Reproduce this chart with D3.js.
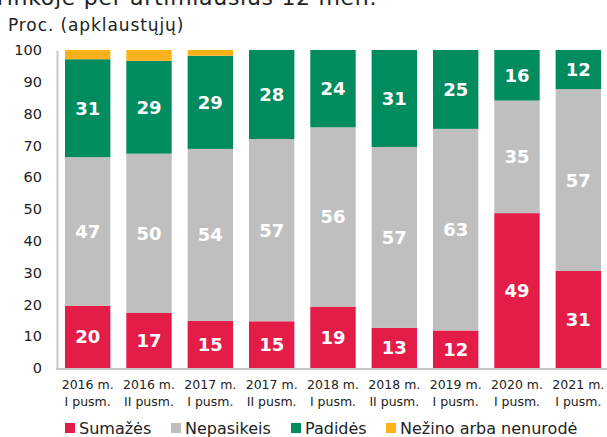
<!DOCTYPE html>
<html>
<head>
<meta charset="utf-8">
<script src="https://cdn.jsdelivr.net/npm/d3@7"></script>
<style>
  body { margin: 0; background: #fff; }
  svg { display: block; font-family: "DejaVu Sans", Verdana, sans-serif; }
</style>
</head>
<body>
<svg id="chart" width="607" height="437"></svg>
<script>
var periods = ["2016 m.|I pusm.", "2016 m.|II pusm.", "2017 m.|I pusm.", "2017 m.|II pusm.",
  "2018 m.|I pusm.", "2018 m.|II pusm.", "2019 m.|I pusm.", "2020 m.|I pusm.", "2021 m.|I pusm."]
var sumazes    = [19.6, 17.3, 14.8, 14.7, 19.3, 12.6, 11.8, 48.7, 30.5]
var nepasikeis = [46.7, 50.1, 54.1, 57.3, 56.4, 56.9, 63.4, 35.4, 57.2]
var padides    = [30.8, 29.2, 29.3, 28.0, 24.3, 30.5, 24.8, 15.9, 12.3]
var nezino     = [2.9, 3.4, 1.8, 0, 0, 0, 0, 0, 0]
var yTicks = [0, 10, 20, 30, 40, 50, 60, 70, 80, 90, 100]

var keys = ["Sumažės", "Nepasikeis", "Padidės", "Nežino arba nenurodė"]
var colors = ["#e31d48", "#bfbfbf", "#008c5f", "#fdb01a"]

var rows = periods.map(function(p, i){
  return {period: p, "Sumažės": sumazes[i], "Nepasikeis": nepasikeis[i],
    "Padidės": padides[i], "Nežino arba nenurodė": nezino[i]}
})

var svg = d3.select("#chart")

// title, cut off at the top edge like in the original
svg.append("text")
  .attr("x", -3).attr("y", 5)
  .attr("font-size", 22).attr("fill", "#222")
  .attr("letter-spacing", 0.7)
  .text("rinkoje per artimiausius 12 mėn.")

svg.append("text")
  .attr("x", 8).attr("y", 31)
  .attr("font-size", 17).attr("fill", "#222")
  .attr("letter-spacing", 0.9)
  .text("Proc. (apklaustųjų)")

var x = d3.scaleBand().domain(periods).range([57, 609]).paddingInner(0.26).paddingOuter(0.13)
var y = d3.scaleLinear().domain([0, 100]).range([368, 50])

var stack = d3.stack().keys(keys)(rows)

var layer = svg.selectAll(".layer")
  .data(stack)
  .join("g")
  .attr("class", "layer")
  .attr("fill", function(d, i){ return colors[i] })

layer.selectAll("rect")
  .data(function(d){ return d })
  .join("rect")
  .attr("x", function(d){ return x(d.data.period) })
  .attr("width", x.bandwidth())
  .attr("y", function(d){ return y(d[1]) })
  .attr("height", function(d){ return y(d[0]) - y(d[1]) })

// value labels (not for the orange series)
stack.slice(0, 3).forEach(function(s){
  svg.append("g").selectAll("text")
    .data(s)
    .join("text")
    .attr("x", function(d){ return x(d.data.period) + x.bandwidth()/2 })
    .attr("y", function(d){ return (y(d[0]) + y(d[1]))/2 })
    .attr("dy", "0.36em")
    .attr("text-anchor", "middle")
    .attr("font-size", 18)
    .attr("font-weight", "bold")
    .attr("fill", "#fff")
    .text(function(d){ return Math.round(d[1] - d[0]) })
})

// y axis
var yAxis = svg.append("g")
  .attr("transform", "translate(57,0)")
  .call(d3.axisLeft(y).tickValues(yTicks).tickSize(0).tickPadding(15))
yAxis.select(".domain").attr("stroke", "#c8c8c8").attr("stroke-width", 2)
yAxis.selectAll("text").attr("font-size", 14.5).attr("fill", "#222")
  .attr("font-family", "DejaVu Sans, Verdana, sans-serif")

// x axis
var xAxis = svg.append("g")
  .attr("transform", "translate(0,369)")
  .call(d3.axisBottom(x).tickSize(0).tickSizeOuter(0).tickFormat(""))
xAxis.select(".domain").attr("stroke", "#c8c8c8").attr("stroke-width", 2)
  .attr("d", "M56,0H607")

xAxis.selectAll(".tick").each(function(d){
  var parts = d.split("|")
  var t = d3.select(this).append("text")
    .attr("fill", "#222").attr("font-size", 12.5)
    .attr("font-family", "DejaVu Sans, Verdana, sans-serif")
    .attr("text-anchor", "middle")
  t.append("tspan").attr("x", 0).attr("y", 20).text(parts[0])
  t.append("tspan").attr("x", 0).attr("y", 37).text(parts[1])
})

// legend
var legendX = [65, 171, 291, 386]
var legend = svg.append("g").selectAll("g")
  .data(keys)
  .join("g")
  .attr("transform", function(d, i){ return "translate(" + legendX[i] + ",423)" })
legend.append("rect").attr("width", 10).attr("height", 10)
  .attr("fill", function(d, i){ return colors[i] })
legend.append("text").attr("x", 14).attr("y", 11)
  .attr("font-size", 16).attr("fill", "#222")
  .text(function(d){ return d })
</script>
</body>
</html>
